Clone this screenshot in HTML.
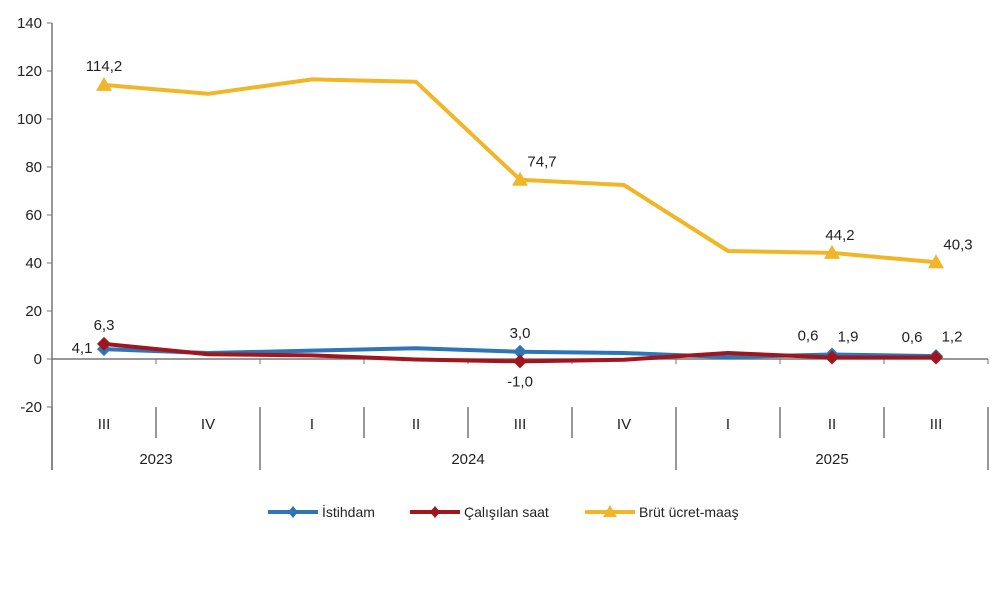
<!DOCTYPE html>
<html><head><meta charset="utf-8"><style>
body{margin:0;background:#fff;}
svg{display:block;font-family:"Liberation Sans",sans-serif;}
</style></head><body>
<svg id="chart" width="1000" height="593"></svg>
<script>
const categories=["III","IV","I","II","III","IV","I","II","III"];
const years=["2023","2024","2025"];
const yTicks=[-20,0,20,40,60,80,100,120,140];
const istihdam=[4.1,2.5,3.5,4.5,3.0,2.5,0.8,1.9,1.2];
const calisilan=[6.3,2.0,1.5,-0.2,-1.0,-0.3,2.5,0.6,0.6];
const brut=[114.2,110.5,116.5,115.5,74.7,72.5,45.0,44.2,40.3];
const istLabels={0:"4,1",4:"3,0",7:"0,6",8:"0,6"};
const calLabels={0:"6,3",4:"-1,0",7:"1,9",8:"1,2"};
const brutLabels={0:"114,2",4:"74,7",7:"44,2",8:"40,3"};
const NS="http://www.w3.org/2000/svg";
const svg=document.getElementById('chart');
const x0=52,band=104;
const xs=i=>x0+band*(i+0.5);
const ys=v=>359-v*2.4;
function el(t,a,p){const e=document.createElementNS(NS,t);for(const k in a)e.setAttribute(k,a[k]);(p||svg).appendChild(e);return e;}
let a=el('line',{x1:x0,y1:ys(140),x2:x0,y2:470,stroke:'#777','stroke-width':1.5});


yTicks.forEach(v=>{
 let t=el('line',{x1:x0-5,y1:ys(v),x2:x0,y2:ys(v),stroke:'#777'});
 
 
 let l=el('text',{x:x0-10,y:ys(v)+5,'text-anchor':'end','font-size':15,fill:'#222'});l.textContent=v;
 
 
});
a=el('line',{x1:x0,y1:ys(0),x2:x0+band*9,y2:ys(0),stroke:'#777','stroke-width':1.5});


const yearBounds=[0,2,6,9];
for(let i=0;i<=9;i++){
 let t=el('line',{x1:x0+band*i,y1:ys(0),x2:x0+band*i,y2:ys(0)+5,stroke:'#777'});
 
 
 const tall=yearBounds.includes(i);
 let s=el('line',{x1:x0+band*i,y1:407,x2:x0+band*i,y2:tall?470:438,stroke:'#777','stroke-width':1.5});
 
 
}
categories.forEach((c,i)=>{
 let l=el('text',{x:xs(i),y:429,'text-anchor':'middle','font-size':15,fill:'#222'});l.textContent=c;
 
 
});
years.forEach((y,k)=>{
 const cx=x0+band*(yearBounds[k]+yearBounds[k+1])/2;
 let l=el('text',{x:cx,y:464,'text-anchor':'middle','font-size':15,fill:'#222'});l.textContent=y;
 
 
});
function series(vals,color,name,marker,labels,dy,dx){
 const pts=vals.map((v,i)=>[xs(i),ys(v)]);
 let p=el('polyline',{points:pts.map(q=>q.join(',')).join(' '),fill:'none',stroke:color,'stroke-width':4,'stroke-linejoin':'round'});
 
 
 Object.keys(labels).forEach(k=>{
  const [px,py]=pts[k];
  let m;
  if(marker==='tri') m=el('polygon',{points:`${px},${py-8} ${px-8},${py+6} ${px+8},${py+6}`,fill:color});
  else m=el('polygon',{points:`${px},${py-7} ${px+7},${py} ${px},${py+7} ${px-7},${py}`,fill:color});
  
  
  const off=dy(+k),ox=dx(+k);
  let l=el('text',{x:px+ox,y:py+off,'text-anchor':'middle','font-size':15,fill:'#222'});l.textContent=labels[k];
  
  
 });
}
series(istihdam,'#2E75B6','istihdam','dia',istLabels,k=>k===4?-14:(k>=7?-14:4),k=>k===0?-22:(k>=7?-24:0));
series(calisilan,'#A0151E','calisilan-saat','dia',calLabels,k=>k===4?25:(k>=7?-16:-14),k=>k>=7?16:0);
series(brut,'#F0B628','brut-ucret','tri',brutLabels,k=>k===0?-14:-13,k=>k===0?0:(k===4?22:(k===7?8:22)));
const leg=[["İstihdam",'#2E75B6',268,'dia'],["Çalışılan saat",'#A0151E',410,'dia'],["Brüt ücret-maaş",'#F0B628',585,'tri']];
leg.forEach(([t,c,lx,m])=>{
 const g=el('g',{});
 
 
 el('line',{x1:lx,y1:512,x2:lx+50,y2:512,stroke:c,'stroke-width':4},g);
 const cx=lx+25;
 if(m==='tri') el('polygon',{points:`${cx},${505} ${cx-7},${517} ${cx+7},${517}`,fill:c},g);
 else el('polygon',{points:`${cx},506 ${cx+5},512 ${cx},518 ${cx-5},512`,fill:c},g);
 const tx=el('text',{x:lx+54,y:517,'font-size':14,fill:'#222'},g);tx.textContent=t;
});
</script>
</body></html>
